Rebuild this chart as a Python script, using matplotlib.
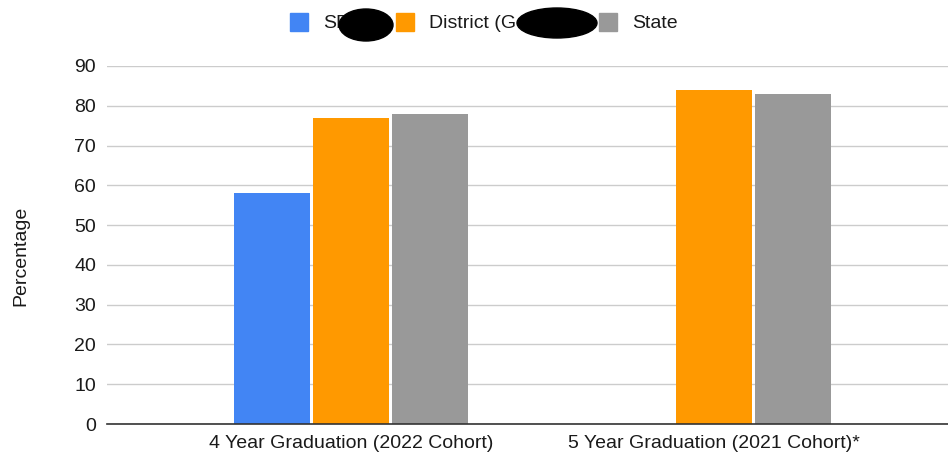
import matplotlib.pyplot as plt
from matplotlib.patches import Ellipse, Rectangle
import numpy as np

plt.rcParams['font.family'] = ['Liberation Sans', 'DejaVu Sans']

# data
categories = ['4 Year Graduation (2022 Cohort)', '5 Year Graduation (2021 Cohort)*']
series_names = ['SD', 'District (G', 'State']
sd_vals = [58, np.nan]
district_vals = [77, 84]
state_vals = [78, 83]
colors = ['#4285F4', '#FF9900', '#999999']

fig = plt.figure(figsize=(9.48, 4.57), dpi=100)
ax = fig.add_axes([0.1129, 0.0722, 0.8871, 0.7834])

x = np.arange(len(categories))
w = 0.209
offsets = [-0.218, 0, 0.218]
for vals, off, c in zip([sd_vals, district_vals, state_vals], offsets, colors):
    ax.bar(x + off, vals, width=w, color=c, zorder=3)

ax.set_xlim(-0.672, 1.645)
ax.set_ylim(0, 90)
ax.set_yticks(range(0, 91, 10))
ax.set_xticks(x)
ax.set_xticklabels(categories)
ax.tick_params(axis='both', length=0, labelsize=14, colors='#1a1a1a')
ax.tick_params(axis='x', pad=8)
ax.tick_params(axis='y', pad=8)
ax.grid(axis='y', color='#cccccc', linewidth=1, zorder=0)
for s in ['top', 'right', 'left']:
    ax.spines[s].set_visible(False)
ax.spines['bottom'].set_color('#333333')
ax.spines['bottom'].set_linewidth(1.2)
ax.spines['bottom'].set_zorder(4)
ax.set_ylabel('Percentage', fontsize=14, color='#1a1a1a')
ax.yaxis.set_label_coords(-0.103, 0.47)
ax.yaxis.label.set_va('center')

# legend drawn by hand along the top
W, H = 948, 457
sq_x = [290, 396, 599]
for px, c, name in zip(sq_x, colors, series_names):
    fig.patches.append(Rectangle((px / W, 1 - 31 / H), 18 / W, 18 / H,
                                 transform=fig.transFigure, color=c))
    fig.text((px + 33) / W, 1 - 23 / H, name, fontsize=14, color='#1a1a1a',
             va='center', ha='left')

# redaction blobs as in the reference
for cx, cy, ew, eh in [(366, 25, 54, 32), (557, 23, 80, 30)]:
    fig.patches.append(Ellipse((cx / W, 1 - cy / H), ew / W, eh / H,
                               transform=fig.transFigure, color='black', zorder=10))

fig.savefig('out.png', dpi=100)
